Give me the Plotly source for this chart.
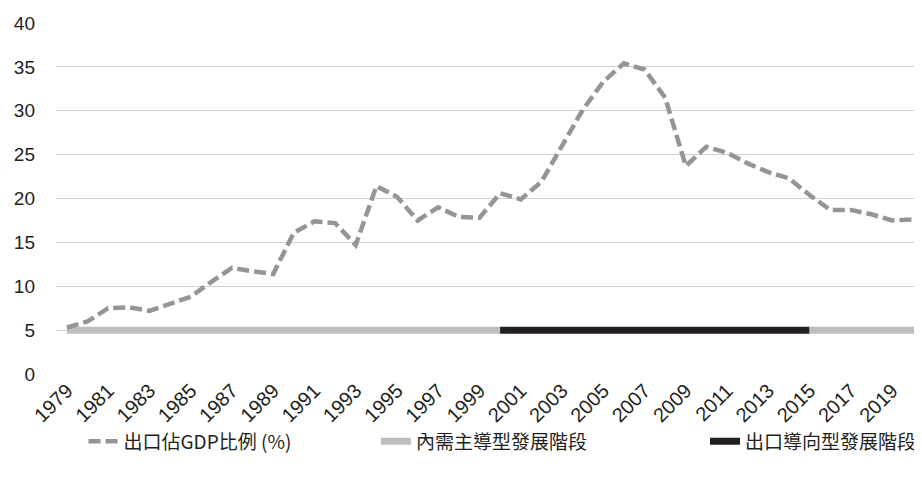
import plotly.graph_objects as go

years = list(range(1979, 2021))
export_share = [5.3, 6.0, 7.5, 7.6, 7.2, 8.0, 8.8, 10.5, 12.1, 11.7, 11.4, 16.1, 17.4, 17.2,
                14.7, 21.4, 20.2, 17.5, 19.0, 17.9, 17.8, 20.6, 19.9, 21.9, 25.9, 30.1,
                33.3, 35.4, 34.7, 31.5, 23.7, 25.9, 25.2, 24.0, 23.0, 22.3, 20.4, 18.7,
                18.7, 18.2, 17.5, 17.6]

domestic_a_years = [1979, 2000]
export_phase_years = [2000, 2015]
domestic_b_years = [2015, 2021]
phase_level = [5, 5]

tick_years = list(range(1979, 2021, 2))
tick_labels = [str(y) for y in tick_years]

name_line = "出口佔GDP比例 (%)"
name_dom = "內需主導型發展階段"
name_exp = "出口導向型發展階段"

FONT = "Liberation Sans, Arial, Noto Sans CJK TC, sans-serif"
LEGEND_FONT = dict(size=19, family="Noto Sans CJK TC, Liberation Sans, sans-serif", color="#231f20")

fig = go.Figure()
fig.add_trace(go.Scatter(x=domestic_a_years, y=phase_level, mode="lines", name=name_dom,
                         line=dict(color="#bcbec0", width=7), legend="legend2"))
fig.add_trace(go.Scatter(x=export_phase_years, y=phase_level, mode="lines", name=name_exp,
                         line=dict(color="#231f20", width=7), legend="legend3"))
fig.add_trace(go.Scatter(x=domestic_b_years, y=phase_level, mode="lines", name=name_dom,
                         line=dict(color="#bcbec0", width=7), showlegend=False))
fig.add_trace(go.Scatter(x=years, y=export_share, mode="lines", name=name_line,
                         line=dict(color="#939598", width=4.5, dash="12px,5px"), legend="legend"))

leg_common = dict(orientation="h", xanchor="left", y=-0.192, yanchor="middle",
                  font=LEGEND_FONT, itemwidth=30, bgcolor="rgba(0,0,0,0)")

fig.update_layout(
    width=914, height=477,
    margin=dict(l=48, r=0, t=15, b=110.5),
    paper_bgcolor="white", plot_bgcolor="white",
    font=dict(family=FONT, size=19, color="#231f20"),
    showlegend=True,
    legend=dict(x=0.032, **leg_common),
    legend2=dict(x=0.372, **leg_common),
    legend3=dict(x=0.755, **leg_common),
)
fig.update_xaxes(range=[1978.47, 2020.16], tickmode="array", tickvals=tick_years, ticktext=tick_labels,
                 tickangle=-45, showgrid=False, zeroline=False, showline=False, ticks="",
                 tickfont=dict(size=20))
fig.update_yaxes(range=[0, 40], dtick=5, showgrid=True, gridcolor="#d0d0d0", gridwidth=1,
                 zeroline=False, showline=False, ticks="", ticklabelstandoff=20,
                 tickfont=dict(size=19))

fig.write_html("out.html")
